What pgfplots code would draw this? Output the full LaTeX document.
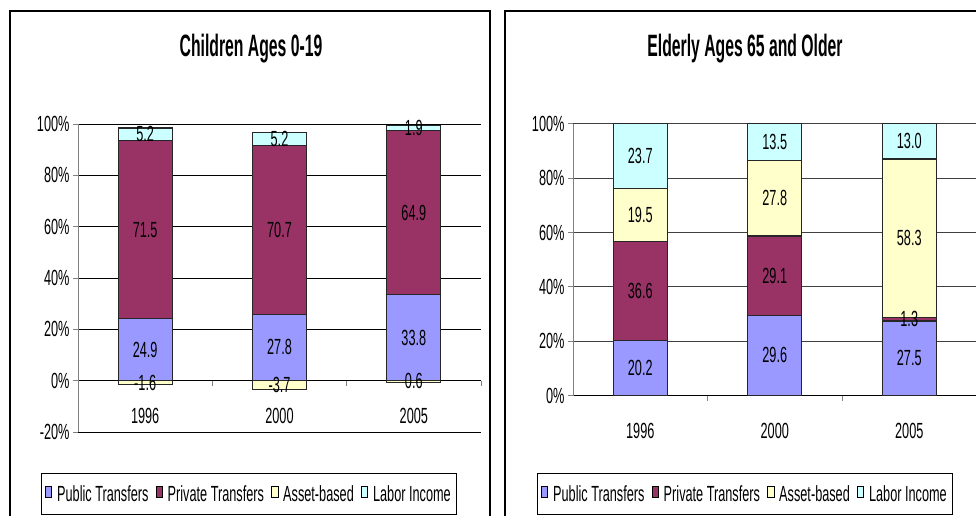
\documentclass[border=0pt]{standalone}
\usepackage{fontspec}
\setmainfont{Liberation Sans}[FakeStretch=0.58]
\newfontfamily\titlefont{Liberation Sans}[FakeStretch=0.51]
\usepackage{pgfplots}
\usepackage{pgfplotstable}
\pgfplotsset{compat=1.18}

\definecolor{cpub}{HTML}{9999FF}
\definecolor{cpriv}{HTML}{993366}
\definecolor{casset}{HTML}{FFFFCC}
\definecolor{clabor}{HTML}{CCFFFF}

\newcommand\lab{\fontsize{22}{23}\selectfont}

% Children Ages 0-19 (shares, asset-based is negative)
\pgfplotstableread{
x pub priv asset labor alab
0 24.9 71.5 -1.6 5.2 -1.6
1 27.8 70.7 -3.7 5.2 -3.7
2 33.8 64.9 -0.6 1.9 0.6
}\children
% Elderly Ages 65 and Older
\pgfplotstableread{
x pub priv asset labor
0 20.2 36.6 19.5 23.7
1 29.6 29.1 27.8 13.5
2 27.5 1.3 58.3 13.0
}\elderly

\newcommand\Sc{(\thisrow{pub}+\thisrow{priv}+abs(\thisrow{asset})+\thisrow{labor})}

\pgfplotsset{
  base/.style={
    scale only axis, xmin=-0.5, xmax=2.5,
    axis x line*=middle, axis y line*=left,
    x axis line style={-, black, line width=0.9bp},
    y axis line style={-, gray, line width=0.9bp},
    xtick={-0.5,0.5,1.5,2.5}, xticklabels={,,,},
    extra x ticks={0,1,2}, extra x tick labels={1996,2000,2005},
    extra x tick style={major tick length=0pt},
    tick align=outside, major tick length=5bp,
    tick style={gray, line width=0.9bp},
    ymajorgrids,
    yticklabel={\pgfmathprintnumber{\tick}\%},
    /pgf/number format/assume math mode=true,
    tick label style={font=\lab},
    xticklabel style={yshift=-24bp},
    legend columns=4,
    legend style={draw=black, line width=0.9bp, font=\lab, inner ysep=10bp, inner xsep=4bp,
      /tikz/every odd column/.append style={column sep=3bp},
      /tikz/every even column/.append style={column sep=5bp}},
    legend image code/.code={\draw[#1,draw=black,line width=0.7bp] (0bp,-3bp) rectangle (6.5bp,8bp);},
  },
  seg/.style={ybar, bar width=54bp, bar shift=0pt, draw=black!85, line width=1.1bp, forget plot},
  lbl/.style={draw=none, forget plot, nodes near coords, point meta=explicit symbolic,
    nodes near coords align={center},
    every node near coord/.append style={font=\lab, text=black, inner sep=0pt}},
}

\begin{document}
\begin{tikzpicture}
\useasboundingbox (0,0) rectangle (976bp,516bp);
\clip (0,0) rectangle (976bp,516bp);
\draw[line width=1.3bp] (10bp,-20bp) rectangle (490bp,505bp);
\draw[line width=1.3bp] (505bp,-20bp) rectangle (1000bp,505bp);
\node[font=\titlefont\bfseries\fontsize{31}{31}\selectfont] at (251bp,467bp) {Children Ages 0-19};
\node[font=\titlefont\bfseries\fontsize{31}{31}\selectfont] at (745bp,467bp) {Elderly Ages 65 and Older};

\begin{axis}[base, at={(78bp,84bp)}, anchor=south west,
  width=403bp, height=308bp, ymin=-20, ymax=100,
  ytick={-20,0,20,40,60,80,100},
  grid style={black, line width=0.8bp},
  legend style={at={(0.424,-0.201)}, anchor=center}]
  \addplot[seg, fill=clabor] table[x=x, y expr={(\thisrow{pub}+\thisrow{priv}+\thisrow{labor})/\Sc*100}] \children;
  \addplot[seg, fill=cpriv] table[x=x, y expr={(\thisrow{pub}+\thisrow{priv})/\Sc*100}] \children;
  \addplot[seg, fill=cpub] table[x=x, y expr={\thisrow{pub}/\Sc*100}] \children;
  \addplot[seg, fill=casset] table[x=x, y expr={\thisrow{asset}/\Sc*100}] \children;
  \addplot[lbl] table[x=x, y expr={\thisrow{pub}/2/\Sc*100}, meta=pub] \children;
  \addplot[lbl] table[x=x, y expr={(\thisrow{pub}+\thisrow{priv}/2)/\Sc*100}, meta=priv] \children;
  \addplot[lbl] table[x=x, y expr={\thisrow{asset}/2/\Sc*100}, meta=alab] \children;
  \addplot[lbl] table[x=x, y expr={(\thisrow{pub}+\thisrow{priv}+\thisrow{labor}/2)/\Sc*100}, meta=labor] \children;
  \addlegendimage{fill=cpub}\addlegendentry{Public Transfers}
  \addlegendimage{fill=cpriv}\addlegendentry{Private Transfers}
  \addlegendimage{fill=casset}\addlegendentry{Asset-based}
  \addlegendimage{fill=clabor}\addlegendentry{Labor Income}
\end{axis}

\begin{axis}[base, at={(573bp,120.3bp)}, anchor=south west,
  width=403.5bp, height=272bp, ymin=0, ymax=100,
  ytick={0,20,40,60,80,100},
  grid style={black!75, line width=0.8bp},
  legend style={at={(0.426,-0.361)}, anchor=center}]
  \addplot[seg, fill=clabor] table[x=x, y expr={(\thisrow{pub}+\thisrow{priv}+\thisrow{asset}+\thisrow{labor})/\Sc*100}] \elderly;
  \addplot[seg, fill=casset] table[x=x, y expr={(\thisrow{pub}+\thisrow{priv}+\thisrow{asset})/\Sc*100}] \elderly;
  \addplot[seg, fill=cpriv] table[x=x, y expr={(\thisrow{pub}+\thisrow{priv})/\Sc*100}] \elderly;
  \addplot[seg, fill=cpub] table[x=x, y expr={\thisrow{pub}/\Sc*100}] \elderly;
  \addplot[lbl] table[x=x, y expr={\thisrow{pub}/2/\Sc*100}, meta=pub] \elderly;
  \addplot[lbl] table[x=x, y expr={(\thisrow{pub}+\thisrow{priv}/2)/\Sc*100}, meta=priv] \elderly;
  \addplot[lbl] table[x=x, y expr={(\thisrow{pub}+\thisrow{priv}+\thisrow{asset}/2)/\Sc*100}, meta=asset] \elderly;
  \addplot[lbl] table[x=x, y expr={(\thisrow{pub}+\thisrow{priv}+\thisrow{asset}+\thisrow{labor}/2)/\Sc*100}, meta=labor] \elderly;
  \addlegendimage{fill=cpub}\addlegendentry{Public Transfers}
  \addlegendimage{fill=cpriv}\addlegendentry{Private Transfers}
  \addlegendimage{fill=casset}\addlegendentry{Asset-based}
  \addlegendimage{fill=clabor}\addlegendentry{Labor Income}
\end{axis}
\end{tikzpicture}
\end{document}
